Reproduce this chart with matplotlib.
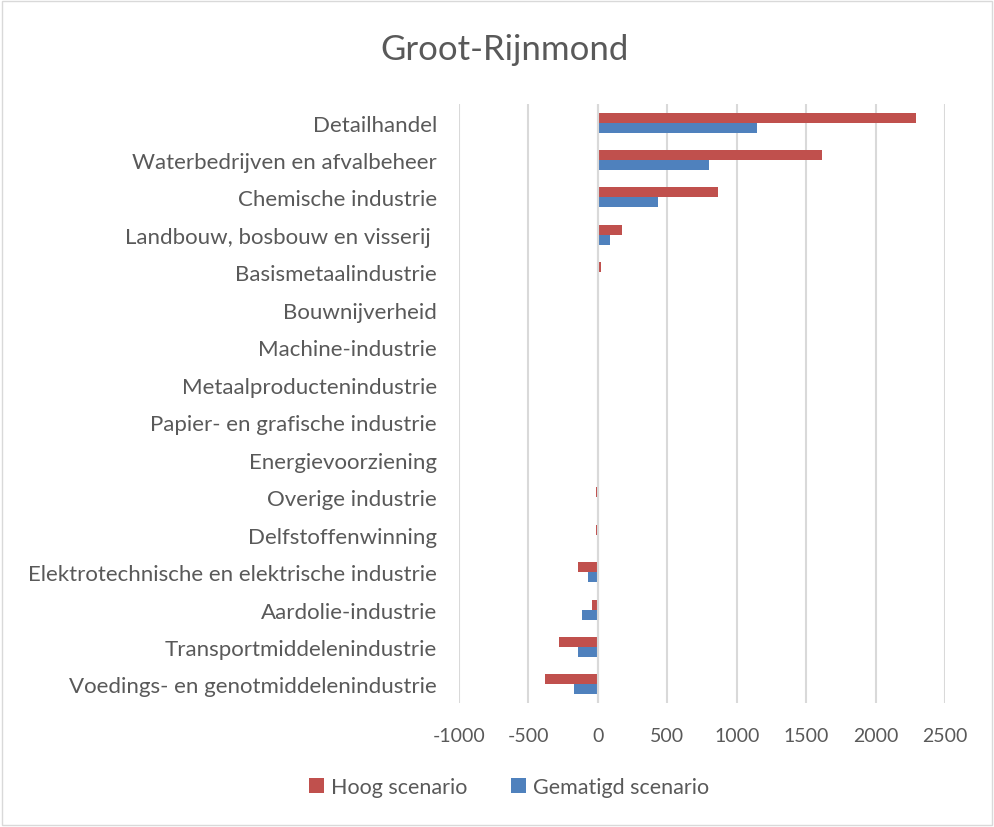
import numpy as np
import matplotlib.pyplot as plt
from matplotlib.patches import Rectangle

sectoren = [
    "Detailhandel",
    "Waterbedrijven en afvalbeheer",
    "Chemische industrie",
    "Landbouw, bosbouw en visserij ",
    "Basismetaalindustrie",
    "Bouwnijverheid",
    "Machine-industrie",
    "Metaalproductenindustrie",
    "Papier- en grafische industrie",
    "Energievoorziening",
    "Overige industrie",
    "Delfstoffenwinning",
    "Elektrotechnische en elektrische industrie",
    "Aardolie-industrie",
    "Transportmiddelenindustrie",
    "Voedings- en genotmiddelenindustrie",
]
hoog = [2289, 1611, 867, 175, 22, 0, 0, 0, 0, 0, -10, -17, -140, -40, -280, -378]
gematigd = [1143, 800, 432, 89, 8, 0, 0, 0, 0, 0, -2, -5, -70, -112, -140, -175]
xticks = [-1000, -500, 0, 500, 1000, 1500, 2000, 2500]

rood = "#C0504D"
blauw = "#4F81BD"
grijs = "#595959"

plt.rcParams["font.family"] = ["Lato", "DejaVu Sans"]

fig = plt.figure(figsize=(9.94, 8.28), dpi=100)
fig.patches.append(Rectangle((0.002, 0.002), 0.996, 0.996, transform=fig.transFigure,
                             fill=False, edgecolor="#d9d9d9", linewidth=1))
ax = fig.add_axes([0.4618, 0.1495, 0.4889, 0.7239])

y = np.arange(len(sectoren))
h = 0.267
ax.barh(y - h / 2, hoog, height=h, color=rood, label="Hoog scenario", zorder=3)
ax.barh(y + h / 2, gematigd, height=h, color=blauw, label="Gematigd scenario", zorder=3)

ax.set_ylim(len(sectoren) - 0.5, -0.5)
ax.set_xlim(-1000, 2500)
ax.set_yticks(y)
ax.set_yticklabels(sectoren, fontsize=16, color=grijs)
ax.set_xticks(xticks)
ax.set_xticklabels([str(v) for v in xticks], fontsize=14, color=grijs)
ax.tick_params(length=0)
ax.tick_params(axis="x", pad=17)
ax.tick_params(axis="y", pad=16)
ax.grid(axis="x", color="#d9d9d9", linewidth=1.5, zorder=0)
for s in ax.spines.values():
    s.set_visible(False)
ax.axvline(0, color="#d9d9d9", linewidth=1.5, zorder=4)

fig.text(0.508, 0.94, "Groot-Rijnmond", ha="center", va="center", fontsize=25, color=grijs)
fig.legend(loc="center", bbox_to_anchor=(0.512, 0.048), ncol=2, frameon=False,
           fontsize=15.5, labelcolor=grijs, handlelength=0.7, handleheight=0.7,
           columnspacing=2.0, handletextpad=0.35)

fig.savefig("out.png", dpi=100)
